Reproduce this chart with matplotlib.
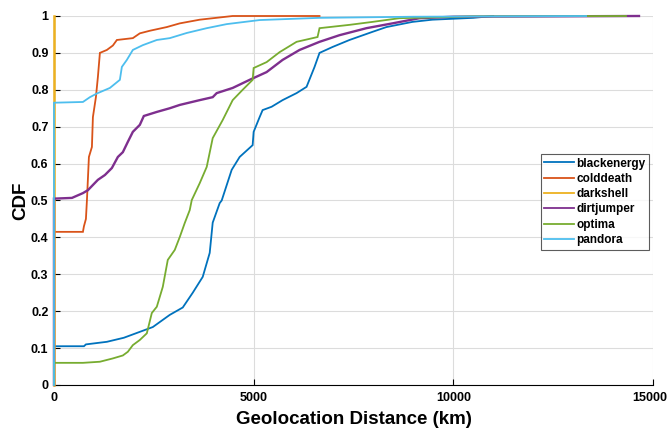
import numpy as np
import matplotlib
matplotlib.use("Agg")
import matplotlib.pyplot as plt
from matplotlib.transforms import ScaledTranslation

plt.rcParams['font.family'] = ['Liberation Sans', 'DejaVu Sans']
plt.rcParams['font.weight'] = 'bold'

# --- data: (distance km, CDF) knots ---
blackenergy_x = [0, 750, 800, 1325, 1750, 2150, 2475, 2900, 3225, 3475, 3725, 3900, 3975, 4150, 4200,
                 4450, 4650, 4975, 5000, 5150, 5225, 5450, 5725, 6075, 6325, 6525, 6650, 6975,
                 7400, 7975, 8325, 8975, 9475, 10500, 11000]
blackenergy_y = [0.105, 0.105, 0.11, 0.117, 0.128, 0.144, 0.157, 0.19, 0.21, 0.25, 0.293, 0.358, 0.44,
                 0.493, 0.50, 0.583, 0.618, 0.65, 0.686, 0.726, 0.745, 0.754, 0.772, 0.791,
                 0.808, 0.862, 0.90, 0.916, 0.935, 0.957, 0.97, 0.984, 0.99, 0.995, 1.0]

colddeath_x = [0, 725, 750, 800, 825, 875, 950, 975, 1050, 1100, 1150, 1325, 1475, 1575, 1975,
               2150, 2400, 2825, 3150, 3650, 4475, 6650]
colddeath_y = [0.415, 0.415, 0.43, 0.45, 0.50, 0.618, 0.645, 0.726, 0.78, 0.835, 0.90, 0.908,
               0.92, 0.935, 0.94, 0.953, 0.96, 0.97, 0.98, 0.99, 1.0, 1.0]

darkshell_x = [0, 0]
darkshell_y = [0.0, 1.0]

dirtjumper_x = [0, 450, 725, 850, 975, 1100, 1275, 1450, 1600, 1725, 1850, 1975, 2150, 2250,
                2575, 2900, 3150, 3650, 3975, 4075, 4475, 4900, 5325, 5725, 6150, 6650, 7150,
                7825, 8475, 9150, 10000, 14650]
dirtjumper_y = [0.505, 0.507, 0.52, 0.528, 0.542, 0.556, 0.569, 0.588, 0.618, 0.631, 0.659,
                0.686, 0.705, 0.729, 0.74, 0.75, 0.759, 0.772, 0.78, 0.791, 0.805, 0.827,
                0.848, 0.881, 0.908, 0.93, 0.948, 0.967, 0.98, 0.994, 0.998, 1.0]

optima_x = [0, 725, 1150, 1475, 1725, 1850, 1975, 2150, 2325, 2450, 2575, 2725, 2850, 3025,
            3150, 3275, 3400, 3450, 3650, 3825, 3975, 4225, 4475, 4725, 4975, 5000, 5325,
            5650, 6075, 6600, 6650, 7400, 7975, 8650, 10500, 14325]
optima_y = [0.06, 0.06, 0.063, 0.072, 0.08, 0.09, 0.108, 0.122, 0.14, 0.195, 0.212, 0.266,
            0.339, 0.366, 0.401, 0.439, 0.474, 0.501, 0.547, 0.591, 0.669, 0.718, 0.772,
            0.80, 0.827, 0.859, 0.875, 0.902, 0.93, 0.943, 0.967, 0.976, 0.984, 0.994, 0.999, 1.0]

pandora_x = [0, 725, 900, 1075, 1400, 1650, 1700, 1825, 1975, 2225, 2575, 2900, 3325, 3825,
             4325, 5150, 6650, 9000, 13325]
pandora_y = [0.765, 0.767, 0.78, 0.79, 0.805, 0.827, 0.862, 0.881, 0.908, 0.921, 0.935, 0.94,
             0.954, 0.967, 0.978, 0.989, 0.995, 0.998, 1.0]

names = ["blackenergy", "colddeath", "darkshell", "dirtjumper", "optima", "pandora"]
colors = ["#0072BD", "#D95319", "#EDB120", "#7E2F8E", "#77AC30", "#4DBEEE"]
widths = [1.3, 1.3, 1.8, 1.7, 1.3, 1.3]
series = [(blackenergy_x, blackenergy_y), (colddeath_x, colddeath_y), (darkshell_x, darkshell_y),
          (dirtjumper_x, dirtjumper_y), (optima_x, optima_y), (pandora_x, pandora_y)]

fig = plt.figure(figsize=(6.68, 4.30), dpi=100)
ax = fig.add_axes([0.0808, 0.1047, 0.8967, 0.8581])

for (xs, ys), name, c, lw in zip(series, names, colors, widths):
    xs = list(xs)
    ys = list(ys)
    # vertical rise from 0 at the origin, like a stair CDF
    if name != "darkshell":
        xs = [0] + xs
        ys = [0] + ys
    ax.plot(xs, ys, color=c, lw=lw, label=name, solid_joinstyle='miter',
            clip_on=False, zorder=3)

ax.set_xlim(0, 15000)
ax.set_ylim(0, 1)
ax.set_xticks([0, 5000, 10000, 15000])
ax.set_yticks(np.arange(0, 1.01, 0.1))
ax.set_yticklabels(["0", "0.1", "0.2", "0.3", "0.4", "0.5", "0.6", "0.7", "0.8", "0.9", "1"])
ax.tick_params(direction='in', length=4, width=0.8, labelsize=9)
ax.tick_params(axis='x', pad=5)
ax.tick_params(axis='y', pad=4)
for lab in ax.get_xticklabels() + ax.get_yticklabels():
    lab.set_fontweight('bold')
last = ax.get_xticklabels()[-1]
last.set_transform(last.get_transform() + ScaledTranslation(-3 / 100, 0, fig.dpi_scale_trans))
ax.grid(True, color='#dcdcdc', lw=0.8)
ax.set_axisbelow(True)
ax.spines['top'].set_visible(False)
ax.spines['right'].set_visible(False)

ax.set_xlabel("Geolocation Distance (km)", fontsize=13.5, fontweight='bold', labelpad=5)
ax.set_ylabel("CDF", fontsize=13.5, fontweight='bold', labelpad=1)

leg = ax.legend(loc='upper left', bbox_to_anchor=(0.813, 0.626), fontsize=8.5,
                frameon=True, fancybox=False, edgecolor='#333333', handlelength=2.5,
                handletextpad=0.2, borderpad=0.3, labelspacing=0.28, borderaxespad=0)
leg.get_frame().set_linewidth(0.8)
for t in leg.get_texts():
    t.set_fontweight('bold')
for h in leg.get_lines():
    h.set_linewidth(1.3)

fig.savefig("out.png", dpi=100)
